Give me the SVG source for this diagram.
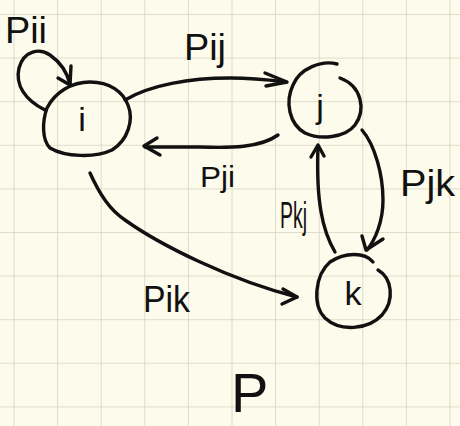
<svg xmlns="http://www.w3.org/2000/svg" width="460" height="426" viewBox="0 0 460 426">
<defs>
<pattern id="grid" x="13.5" y="14" width="43.6" height="43.6" patternUnits="userSpaceOnUse">
<path d="M0,0 V43.6 M0,0 H43.6" fill="none" stroke="#d6d4c4" stroke-width="1.6"/>
</pattern>
<style>
.ink{fill:none;stroke:#111;stroke-width:3.4;stroke-linecap:round;stroke-linejoin:round}
.lbl{font-family:"Liberation Sans",Arial,sans-serif;font-size:36px;fill:#111}
.nl{font-family:"Liberation Sans",Arial,sans-serif;font-size:34px;fill:#111;text-anchor:middle}
</style>
</defs>
<rect width="460" height="426" fill="#fdfbeb"/>
<rect width="460" height="426" fill="url(#grid)"/>
<g id="node-i">
<path class="ink" d="M47,108 C55,92 72,82 90,82 C110,82 123,92 128,105 C134,120 128,140 112,150 C95,158 65,157 50,148 C42,140 42,122 47,108 Z"/>
<text class="nl" x="82" y="131">i</text>
</g>
<g id="node-j">
<path class="ink" d="M337,64 C322,60 300,68 293,85 C285,102 289,124 305,133 C320,140 345,138 355,125 C366,110 362,86 340,78"/>
<text class="nl" x="320" y="118">j</text>
</g>
<g id="node-k">
<path class="ink" d="M373,262 C365,252 345,252 330,262 C315,275 312,305 325,318 C340,332 368,330 382,315 C395,300 392,278 378,270"/>
<text class="nl" x="353" y="305">k</text>
</g>
<g id="connectors">
<path class="ink" d="M45,110 C25,100 15,85 19,68 C24,50 40,48 50,55 C60,62 67,72 70,84"/>
<path class="ink" d="M58,78 L70,85 L71,66"/>
<path class="ink" d="M125,100 C150,85 190,78 230,78 C255,78 270,80 286,82"/>
<path class="ink" d="M265,73 L287,82 L266,86"/>
<path class="ink" d="M278,135 C260,148 230,148 200,147 C180,147 160,147 145,147"/>
<path class="ink" d="M157,138 L144,146 L160,155"/>
<path class="ink" d="M335,252 C322,230 316,200 318,146"/>
<path class="ink" d="M311,157 L318,145 L324,156"/>
<path class="ink" d="M362,130 C375,145 383,175 383,200 C383,222 375,240 367,250"/>
<path class="ink" d="M362,236 L366,250 L383,239"/>
<path class="ink" d="M90,173 C100,195 110,210 125,220 C160,245 230,280 297,297"/>
<path class="ink" d="M283,289 L297,297 L282,304"/>
</g>
<g id="labels">
<text class="lbl" x="5" y="43" textLength="42" lengthAdjust="spacingAndGlyphs">Pii</text>
<text class="lbl" x="184" y="60" textLength="42" lengthAdjust="spacingAndGlyphs">Pij</text>
<text class="lbl" x="200" y="187" style="font-size:30px" textLength="35" lengthAdjust="spacingAndGlyphs">Pji</text>
<text class="lbl" x="400" y="196" textLength="55" lengthAdjust="spacingAndGlyphs">Pjk</text>
<text class="lbl" x="280" y="228" textLength="27" lengthAdjust="spacingAndGlyphs">Pkj</text>
<text class="lbl" x="143" y="312" textLength="47" lengthAdjust="spacingAndGlyphs">Pik</text>
<text class="lbl" x="231" y="412" style="font-size:56px">P</text>
</g>
</svg>
